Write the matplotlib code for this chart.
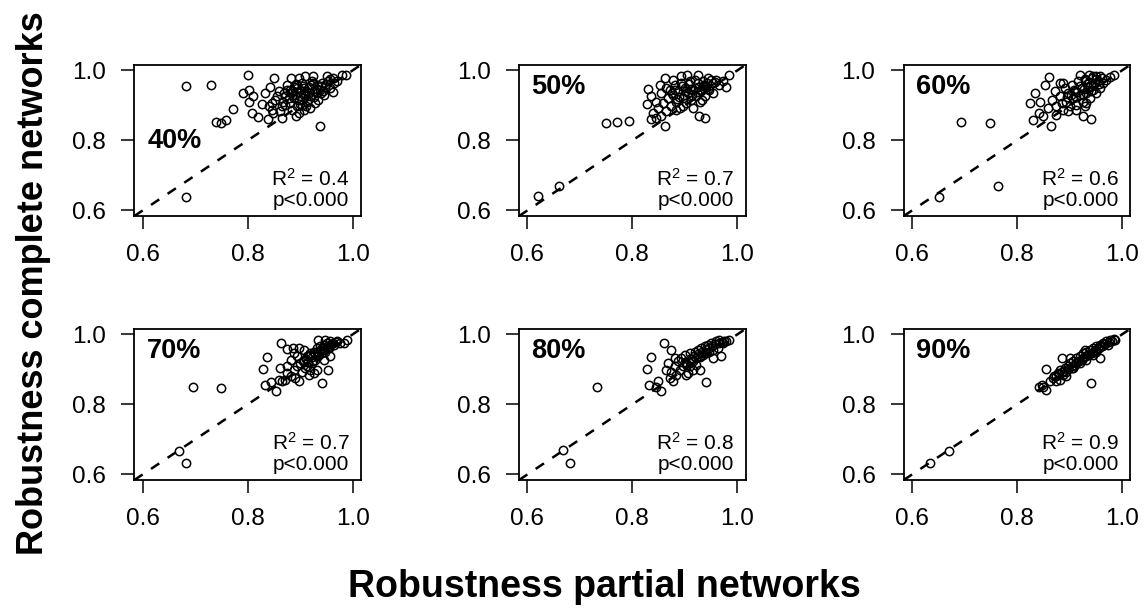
import matplotlib
matplotlib.use('Agg')
import matplotlib.pyplot as plt

plt.rcParams['font.family'] = 'Liberation Sans'
plt.rcParams['mathtext.fontset'] = 'custom'
plt.rcParams['mathtext.rm'] = 'Liberation Sans'
plt.rcParams['mathtext.it'] = 'Liberation Sans'

labels = ['40%', '50%', '60%', '70%', '80%', '90%']
r2_values = ['0.4', '0.7', '0.6', '0.7', '0.8', '0.9']
ticks = [0.6, 0.8, 1.0]
tick_labels = ['0.6', '0.8', '1.0']

# robustness of partial (x) vs complete (y) networks
x40 = [0.683, 0.730, 0.801, 0.683, 0.740, 0.750, 0.758, 0.772, 0.791, 0.803, 0.803, 0.811,
       0.809, 0.819, 0.838, 0.828, 0.834, 0.843, 0.851, 0.865, 0.893, 0.937, 0.963, 0.883,
       0.897, 0.910, 0.924, 0.951, 0.980, 0.988, 0.970, 0.840, 0.846, 0.853, 0.859, 0.865,
       0.872, 0.875, 0.880, 0.888, 0.891, 0.894, 0.897, 0.900, 0.903, 0.907, 0.910, 0.913,
       0.916, 0.919, 0.922, 0.926, 0.929, 0.932, 0.935, 0.938, 0.941, 0.945, 0.948, 0.954,
       0.957, 0.964, 0.862, 0.849, 0.868, 0.885, 0.897, 0.903, 0.912, 0.919, 0.888, 0.907,
       0.894, 0.875, 0.882, 0.856, 0.846, 0.932, 0.870, 0.878, 0.886, 0.892, 0.899, 0.905,
       0.911, 0.917, 0.921, 0.927, 0.933, 0.939, 0.943, 0.950, 0.956, 0.962, 0.880, 0.895,
       0.908, 0.925, 0.940, 0.915, 0.900, 0.872]
y40 = [0.955, 0.959, 0.987, 0.638, 0.853, 0.849, 0.858, 0.889, 0.935, 0.945, 0.911, 0.926,
       0.878, 0.867, 0.862, 0.904, 0.935, 0.954, 0.978, 0.864, 0.869, 0.840, 0.937, 0.978,
       0.978, 0.983, 0.985, 0.985, 0.988, 0.988, 0.969, 0.897, 0.887, 0.916, 0.940, 0.897,
       0.926, 0.945, 0.907, 0.954, 0.930, 0.897, 0.916, 0.945, 0.964, 0.887, 0.935, 0.911,
       0.954, 0.926, 0.969, 0.940, 0.907, 0.959, 0.916, 0.945, 0.964, 0.930, 0.954, 0.969,
       0.950, 0.964, 0.883, 0.878, 0.911, 0.887, 0.878, 0.902, 0.897, 0.892, 0.921, 0.950,
       0.959, 0.959, 0.935, 0.926, 0.907, 0.935, 0.935, 0.920, 0.940, 0.962, 0.928, 0.955,
       0.942, 0.935, 0.958, 0.925, 0.948, 0.955, 0.940, 0.960, 0.975, 0.978, 0.945, 0.950,
       0.930, 0.965, 0.935, 0.915, 0.905, 0.900]

x50 = [0.621, 0.661, 0.749, 0.771, 0.793, 0.862, 0.835, 0.827, 0.830, 0.853, 0.862, 0.927,
       0.938, 0.985, 0.978, 0.954, 0.904, 0.925, 0.836, 0.840, 0.846, 0.849, 0.855, 0.859,
       0.865, 0.868, 0.871, 0.874, 0.878, 0.881, 0.884, 0.887, 0.890, 0.893, 0.897, 0.900,
       0.903, 0.906, 0.909, 0.912, 0.916, 0.919, 0.922, 0.925, 0.928, 0.931, 0.935, 0.938,
       0.941, 0.947, 0.954, 0.960, 0.966, 0.973, 0.884, 0.855, 0.846, 0.897, 0.916, 0.933,
       0.865, 0.878, 0.893, 0.944, 0.875, 0.882, 0.889, 0.895, 0.902, 0.908, 0.914, 0.920,
       0.926, 0.930, 0.937, 0.943, 0.950, 0.958, 0.886, 0.898, 0.911, 0.924, 0.935, 0.945]
y50 = [0.640, 0.670, 0.851, 0.854, 0.856, 0.842, 0.862, 0.904, 0.947, 0.959, 0.978, 0.869,
       0.864, 0.988, 0.954, 0.935, 0.988, 0.988, 0.926, 0.878, 0.911, 0.892, 0.935, 0.907,
       0.883, 0.921, 0.945, 0.897, 0.930, 0.959, 0.911, 0.940, 0.892, 0.964, 0.921, 0.950,
       0.906, 0.935, 0.969, 0.916, 0.945, 0.973, 0.926, 0.954, 0.911, 0.940, 0.969, 0.926,
       0.954, 0.945, 0.964, 0.973, 0.959, 0.969, 0.887, 0.869, 0.864, 0.897, 0.892, 0.916,
       0.950, 0.973, 0.983, 0.978, 0.935, 0.945, 0.925, 0.955, 0.940, 0.960, 0.930, 0.950,
       0.965, 0.945, 0.958, 0.965, 0.972, 0.968, 0.918, 0.930, 0.948, 0.938, 0.955, 0.948]

x60 = [0.694, 0.749, 0.763, 0.651, 0.831, 0.864, 0.825, 0.834, 0.853, 0.861, 0.882, 0.888,
       0.941, 0.925, 0.985, 0.977, 0.937, 0.844, 0.841, 0.850, 0.859, 0.866, 0.872, 0.875,
       0.882, 0.888, 0.891, 0.894, 0.897, 0.901, 0.904, 0.907, 0.910, 0.913, 0.916, 0.920,
       0.923, 0.926, 0.929, 0.932, 0.935, 0.939, 0.942, 0.945, 0.948, 0.951, 0.954, 0.958,
       0.964, 0.970, 0.913, 0.929, 0.897, 0.875, 0.885, 0.920, 0.932, 0.958, 0.895, 0.902,
       0.908, 0.915, 0.920, 0.927, 0.933, 0.938, 0.944, 0.950, 0.956, 0.962, 0.912, 0.925,
       0.940, 0.930, 0.945, 0.950]
y60 = [0.852, 0.851, 0.670, 0.637, 0.857, 0.840, 0.907, 0.935, 0.959, 0.980, 0.964, 0.964,
       0.862, 0.869, 0.988, 0.981, 0.988, 0.911, 0.878, 0.869, 0.892, 0.916, 0.940, 0.897,
       0.926, 0.887, 0.950, 0.911, 0.935, 0.897, 0.959, 0.921, 0.940, 0.902, 0.969, 0.930,
       0.950, 0.911, 0.973, 0.935, 0.954, 0.921, 0.978, 0.945, 0.964, 0.935, 0.969, 0.950,
       0.964, 0.973, 0.887, 0.897, 0.883, 0.873, 0.907, 0.988, 0.907, 0.983, 0.925, 0.930,
       0.945, 0.938, 0.955, 0.948, 0.960, 0.968, 0.958, 0.975, 0.962, 0.978, 0.925, 0.930,
       0.940, 0.975, 0.985, 0.985]

x70 = [0.696, 0.750, 0.670, 0.683, 0.837, 0.829, 0.834, 0.844, 0.854, 0.864, 0.875, 0.886,
       0.897, 0.954, 0.941, 0.862, 0.989, 0.983, 0.935, 0.948, 0.872, 0.875, 0.882, 0.888,
       0.891, 0.894, 0.897, 0.900, 0.903, 0.907, 0.910, 0.913, 0.916, 0.919, 0.922, 0.926,
       0.929, 0.932, 0.935, 0.938, 0.941, 0.945, 0.948, 0.951, 0.954, 0.957, 0.964, 0.970,
       0.976, 0.926, 0.919, 0.882, 0.875, 0.888, 0.894, 0.907, 0.913, 0.932, 0.945, 0.957,
       0.866, 0.859, 0.905, 0.912, 0.918, 0.923, 0.928, 0.933, 0.938, 0.943, 0.948, 0.953,
       0.958, 0.962, 0.968, 0.915, 0.925, 0.935, 0.945, 0.955]
y70 = [0.851, 0.847, 0.668, 0.634, 0.935, 0.901, 0.856, 0.863, 0.839, 0.975, 0.958, 0.961,
       0.961, 0.899, 0.861, 0.904, 0.985, 0.975, 0.983, 0.985, 0.870, 0.890, 0.880, 0.899,
       0.875, 0.909, 0.866, 0.918, 0.894, 0.928, 0.904, 0.937, 0.885, 0.947, 0.918, 0.951,
       0.928, 0.961, 0.937, 0.966, 0.947, 0.970, 0.951, 0.975, 0.961, 0.980, 0.970, 0.980,
       0.975, 0.890, 0.899, 0.928, 0.909, 0.947, 0.937, 0.956, 0.909, 0.899, 0.928, 0.937,
       0.866, 0.871, 0.925, 0.930, 0.940, 0.935, 0.945, 0.950, 0.955, 0.960, 0.965, 0.968,
       0.972, 0.975, 0.978, 0.920, 0.925, 0.940, 0.955, 0.960]

x80 = [0.732, 0.667, 0.681, 0.860, 0.874, 0.836, 0.827, 0.831, 0.849, 0.855, 0.846, 0.941,
       0.985, 0.966, 0.954, 0.968, 0.928, 0.871, 0.874, 0.878, 0.881, 0.884, 0.887, 0.890,
       0.893, 0.897, 0.900, 0.903, 0.906, 0.909, 0.912, 0.916, 0.919, 0.922, 0.925, 0.928,
       0.931, 0.935, 0.938, 0.941, 0.944, 0.947, 0.950, 0.954, 0.960, 0.963, 0.973, 0.979,
       0.909, 0.903, 0.922, 0.881, 0.865, 0.868, 0.900, 0.910, 0.918, 0.925, 0.932, 0.940,
       0.946, 0.952, 0.958, 0.965, 0.970, 0.975, 0.905, 0.915, 0.928, 0.938]
y80 = [0.851, 0.670, 0.634, 0.975, 0.956, 0.935, 0.901, 0.856, 0.866, 0.839, 0.851, 0.863,
       0.985, 0.985, 0.932, 0.939, 0.899, 0.875, 0.894, 0.866, 0.909, 0.885, 0.923, 0.899,
       0.932, 0.909, 0.942, 0.918, 0.890, 0.947, 0.923, 0.899, 0.951, 0.932, 0.956, 0.937,
       0.961, 0.942, 0.966, 0.947, 0.970, 0.951, 0.975, 0.956, 0.980, 0.961, 0.975, 0.980,
       0.909, 0.885, 0.913, 0.932, 0.899, 0.918, 0.920, 0.930, 0.938, 0.945, 0.950, 0.958,
       0.962, 0.968, 0.972, 0.975, 0.978, 0.982, 0.912, 0.925, 0.935, 0.948]

x90 = [0.635, 0.670, 0.940, 0.856, 0.886, 0.841, 0.847, 0.856, 0.986, 0.977, 0.958, 0.850,
       0.863, 0.869, 0.875, 0.878, 0.882, 0.885, 0.888, 0.891, 0.894, 0.897, 0.901, 0.904,
       0.907, 0.910, 0.913, 0.916, 0.920, 0.923, 0.926, 0.929, 0.932, 0.935, 0.939, 0.942,
       0.945, 0.948, 0.951, 0.954, 0.958, 0.961, 0.964, 0.970, 0.973, 0.980, 0.875, 0.894,
       0.907, 0.920, 0.932, 0.945, 0.882, 0.901, 0.951, 0.929, 0.890, 0.898, 0.905, 0.912,
       0.918, 0.925, 0.932, 0.938, 0.944, 0.950, 0.956, 0.962, 0.968, 0.975, 0.984, 0.870,
       0.880]
y90 = [0.634, 0.666, 0.861, 0.901, 0.932, 0.851, 0.856, 0.840, 0.985, 0.983, 0.932, 0.851,
       0.866, 0.875, 0.880, 0.890, 0.870, 0.894, 0.885, 0.904, 0.894, 0.909, 0.918, 0.904,
       0.923, 0.913, 0.932, 0.923, 0.937, 0.928, 0.947, 0.937, 0.951, 0.942, 0.956, 0.947,
       0.961, 0.956, 0.966, 0.961, 0.970, 0.966, 0.975, 0.980, 0.970, 0.980, 0.866, 0.880,
       0.904, 0.918, 0.928, 0.942, 0.899, 0.932, 0.951, 0.956, 0.895, 0.902, 0.910, 0.918,
       0.925, 0.932, 0.938, 0.945, 0.950, 0.955, 0.960, 0.968, 0.972, 0.978, 0.986, 0.880,
       0.888]

xs = [x40, x50, x60, x70, x80, x90]
ys = [y40, y50, y60, y70, y80, y90]

fig = plt.figure(figsize=(11.46, 6.08), dpi=100)

lims = (0.584, 1.016)
lefts = [0.1172, 0.4529, 0.7886]
bottoms = [0.6447, 0.2105]
w, h = 0.1978, 0.2487

for i in range(6):
    r, c = divmod(i, 3)
    ax = fig.add_axes([lefts[c], bottoms[r], w, h])
    ax.plot(lims, lims, color='black', lw=1.8, dashes=(4, 4))
    ax.plot(xs[i], ys[i], 'o', mfc='none', mec='black', ms=6, mew=1.1, clip_on=False)
    ax.set_xlim(lims)
    ax.set_ylim(lims)
    ax.set_xticks(ticks)
    ax.set_yticks(ticks)
    ax.set_xticklabels(tick_labels)
    ax.set_yticklabels(tick_labels)
    ax.tick_params(direction='out', length=9.4, width=1.1, pad=11, labelsize=17.5)
    for s in ax.spines.values():
        s.set_linewidth(1.3)
    if i == 0:
        ax.text(0.609, 0.797, labels[i], fontsize=19.5, fontweight='bold', ha='left', va='center')
    else:
        ax.text(0.607, 0.953, labels[i], fontsize=19.5, fontweight='bold', ha='left', va='center')
    ax.text(0.994, 0.669, 'R$^{2}$ = ' + r2_values[i], fontsize=15, ha='right', va='baseline')
    ax.text(0.994, 0.614, 'p<0.000', fontsize=15, ha='right', va='baseline')

fig.text(0.527, 0.018, 'Robustness partial networks', fontsize=27, fontweight='bold',
         ha='center', va='baseline')
fig.text(0.029, 0.535, 'Robustness complete networks', fontsize=26, fontweight='bold',
         ha='center', va='center', rotation=90)

fig.savefig('out.png', dpi=100)
